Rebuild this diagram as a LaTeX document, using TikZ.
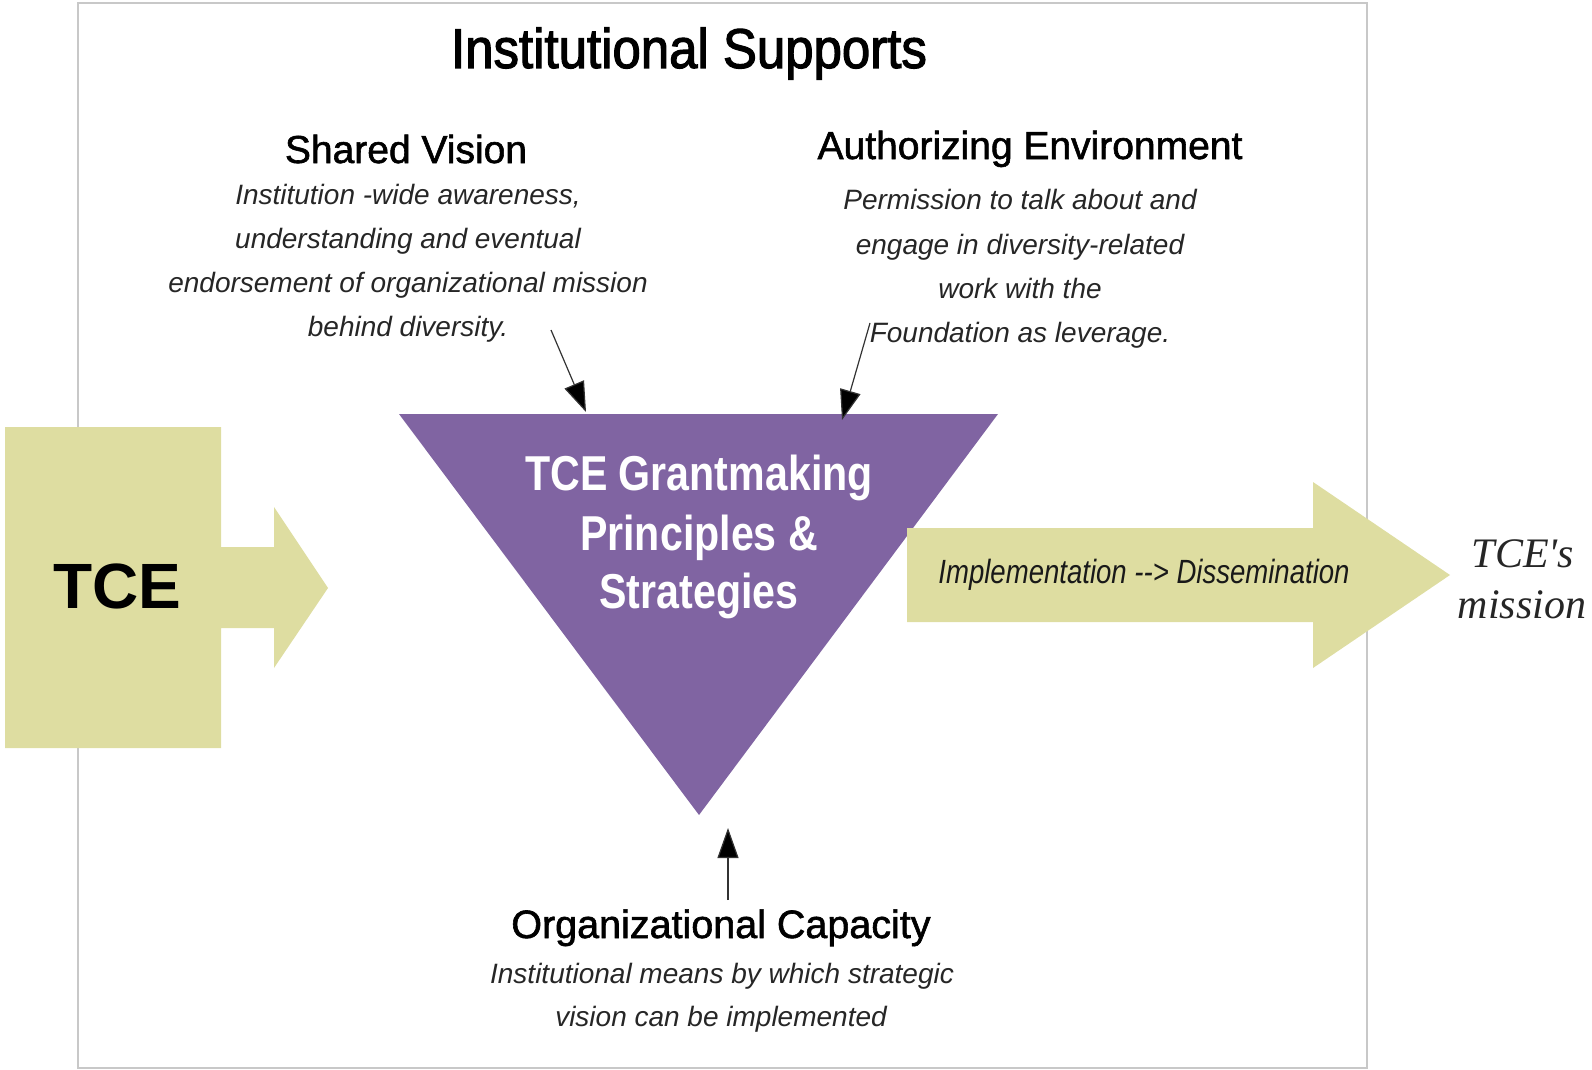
\documentclass[tikz,border=0pt]{standalone}
\usepackage{fontspec}
\setmainfont{Liberation Sans}
\newfontfamily\titlefont[FakeStretch=0.91,FakeBold=2]{Liberation Sans}
\newfontfamily\headfont[FakeBold=1.5]{Liberation Sans}
\newfontfamily\narrowfont[FakeStretch=0.84]{Liberation Sans}
\newfontfamily\implfont[FakeStretch=0.82]{Liberation Sans}
\newfontfamily\serifit{Liberation Serif}
\usetikzlibrary{arrows.meta}
\definecolor{khaki}{RGB}{222,221,161}
\definecolor{tcepurple}{RGB}{128,100,162}
\definecolor{framegray}{RGB}{200,200,200}
\begin{document}
\begin{tikzpicture}[x=1pt,y=-1pt,
  txt/.style={anchor=base,inner sep=0pt,outer sep=0pt},
  titletxt/.style={txt,font=\titlefont\fontsize{56}{60}\selectfont},
  heading/.style={txt,font=\headfont\fontsize{39}{44}\selectfont},
  desc/.style={txt,font=\itshape\fontsize{28}{32}\selectfont,text=black!85},
  tritxt/.style={txt,font=\narrowfont\bfseries\fontsize{49}{54}\selectfont,text=white},
  pointer/.style={draw=black!80,line width=1.2pt,-{Triangle[length=30pt,width=21pt,fill=black]}},
  shapefill/.style={fill=khaki,draw=none},
]
\useasboundingbox (0,0) rectangle (1592,1070);

% frame
\node[draw=framegray,line width=2.5pt,minimum width=1289pt,minimum height=1065pt,inner sep=0pt] (frame) at (722.5,535.5) {};

% title
\node[titletxt] (title) at (689,68) {Institutional Supports};

% Shared vision
\node[heading] (svh) at (406,163) {Shared Vision};
\node[desc] (sv1) at (408,204) {Institution -wide awareness,};
\node[desc] (sv2) at (408,248) {understanding and eventual};
\node[desc] (sv3) at (408,292) {endorsement of organizational mission};
\node[desc] (sv4) at (408,336) {behind diversity.};

% Authorizing environment
\node[heading] (aeh) at (1030,159) {Authorizing Environment};
\node[desc] (ae1) at (1020,209) {Permission to talk about and};
\node[desc] (ae2) at (1020,254) {engage in diversity-related};
\node[desc] (ae3) at (1020,298) {work with the};
\node[desc] (ae4) at (1020,342) {Foundation as leverage.};

% triangle
\coordinate (triTL) at (399,414);
\coordinate (triTR) at (998,414);
\coordinate (triB) at (699,815);
\fill[tcepurple] (triTL) -- (triTR) -- (triB) -- cycle;
\node[tritxt] (tri1) at (699,490) {TCE Grantmaking};
\node[tritxt] (tri2) at (699,550) {Principles \&};
\node[tritxt] (tri3) at (699,608) {Strategies};

% TCE box with arrow
\fill[shapefill] (5,427) -- (221,427) -- (221,547) -- (274,547) -- (274,507) -- (328,588)
  -- (274,668) -- (274,628) -- (221,628) -- (221,748) -- (5,748) -- cycle;
\node[txt,font=\bfseries\fontsize{64}{70}\selectfont] (tce) at (117,608) {TCE};

% right arrow
\fill[shapefill] (907,528) -- (1313,528) -- (1313,482) -- (1450,575) -- (1313,668)
  -- (1313,622) -- (907,622) -- cycle;
\node[txt,font=\implfont\itshape\fontsize{33.6}{36}\selectfont,text=black!90] (impl) at (1144,583) {Implementation -{}-> Dissemination};

% TCE's mission
\node[txt,font=\serifit\itshape\fontsize{42}{44}\selectfont,text=black!85] (mis1) at (1523,567) {TCE's};
\node[txt,font=\serifit\itshape\fontsize{42}{44}\selectfont,text=black!85] (mis2) at (1522,618) {mission};

% organizational capacity
\node[heading,font=\headfont\fontsize{39.5}{44}\selectfont] (och) at (721,938) {Organizational Capacity};
\node[desc] (oc1) at (722,983) {Institutional means by which strategic};
\node[desc] (oc2) at (721,1026) {vision can be implemented};

% pointers
\coordinate (svFrom) at (551,330);
\coordinate (svTo) at (586,412);
\coordinate (aeFrom) at (870,323);
\coordinate (aeTo) at (842,420);
\coordinate (ocFrom) at (728,900);
\coordinate (ocTo) at (728,828);
\draw[pointer] (svFrom) -- (svTo);
\draw[pointer] (aeFrom) -- (aeTo);
\draw[pointer] (ocFrom) -- (ocTo);
\end{tikzpicture}
\end{document}
